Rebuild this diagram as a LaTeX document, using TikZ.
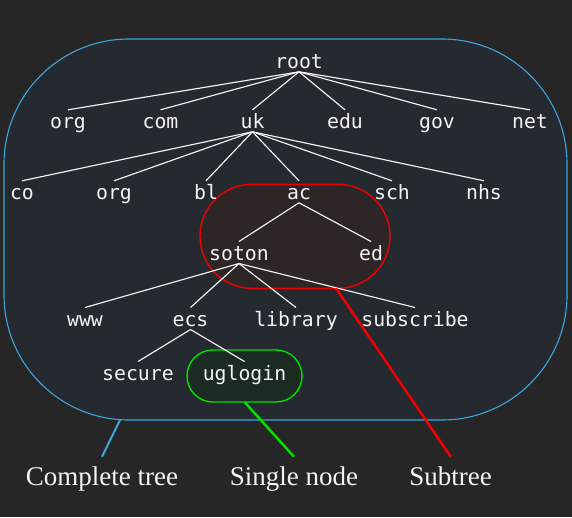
\documentclass[tikz,border=0pt]{standalone}
\usepackage{fontspec}
\setmainfont{Liberation Serif}
\newfontfamily\treefont{DejaVu Sans Mono}
\definecolor{bgc}{RGB}{38,38,38}
\definecolor{innerc}{RGB}{37,41,48}
\definecolor{txt}{RGB}{244,244,244}
\definecolor{cblue}{RGB}{60,165,222}
\definecolor{cred}{RGB}{240,0,0}
\definecolor{rfill}{RGB}{46,37,39}
\definecolor{cgreen}{RGB}{0,225,0}
\definecolor{gfill}{RGB}{27,43,33}
\begin{document}
\begin{tikzpicture}[x=1pt,y=-1pt,
  tn/.style={font=\treefont\fontsize{19.8}{22}\selectfont, text=txt, anchor=base,
    inner xsep=0pt, inner ysep=3.5pt, outer sep=0pt, text height=15pt, text depth=0pt},
  edge/.style={draw=txt, line width=1.15pt},
  lab/.style={font=\fontsize{27}{30}\selectfont, text=txt, anchor=base,
    inner sep=0pt, outer sep=0pt, text height=28.3pt, text depth=0pt},
  region/.style={inner sep=0pt, outer sep=0pt}
]
\useasboundingbox (0,0) rectangle (572,517);
\fill[bgc] (0,0) rectangle (572,517);

% regions
\node[region, draw=cblue, line width=1.1pt, fill=innerc, rounded corners=125pt,
  minimum width=563pt, minimum height=381pt] (tree) at (285.5,229.5) {};
\node[region, draw=cred, line width=1.4pt, fill=rfill, rounded corners=51.9pt,
  minimum width=190pt, minimum height=104pt] (subtree) at (295,236.3) {};
\node[region, draw=cgreen, line width=1.4pt, fill=gfill, rounded corners=25.9pt,
  minimum width=115pt, minimum height=52pt] (single) at (244.5,376) {};

% tree nodes
\node[tn] (root) at (299,68.3) {root};
\node[tn] (org1) at (68,128.3) {org};
\node[tn] (com) at (160.5,128.3) {com};
\node[tn] (uk) at (252.5,128.3) {uk};
\node[tn] (edu) at (345,128.3) {edu};
\node[tn] (gov) at (437,128.3) {gov};
\node[tn] (net) at (530,128.3) {net};

\node[tn] (co) at (22,199.3) {co};
\node[tn] (org2) at (114,199.3) {org};
\node[tn] (bl) at (206,199.3) {bl};
\node[tn] (ac) at (299,199.3) {ac};
\node[tn] (sch) at (392,199.3) {sch};
\node[tn] (nhs) at (484,199.3) {nhs};

\node[tn] (soton) at (239,260) {soton};
\node[tn] (ed) at (371,260) {ed};

\node[tn] (www) at (85,326) {www};
\node[tn] (ecs) at (190.5,326) {ecs};
\node[tn] (library) at (296,326) {library};
\node[tn] (subscribe) at (415,326) {subscribe};

\node[tn] (secure) at (138,380) {secure};
\node[tn] (uglogin) at (244.5,380) {uglogin};

% edges
\foreach \c in {org1,com,uk,edu,gov,net} \draw[edge] (root.south) -- (\c.north);
\foreach \c in {co,org2,bl,ac,sch,nhs} \draw[edge] (uk.south) -- (\c.north);
\foreach \c in {soton,ed} \draw[edge] (ac.south) -- (\c.north);
\foreach \c in {www,ecs,library,subscribe} \draw[edge] (soton.south) -- (\c.north);
\foreach \c in {secure,uglogin} \draw[edge] (ecs.south) -- (\c.north);

% labels
\node[lab] (lab1) at (102,485) {Complete tree};
\node[lab] (lab2) at (294,485) {Single node};
\node[lab] (lab3) at (450.7,485) {Subtree};

\draw[cblue, line width=2pt] ([xshift=116pt]tree.south west) -- (lab1.north);
\draw[cgreen, line width=2.5pt] (single.south) -- (lab2.north);
\draw[cred, line width=2.5pt] ([xshift=41pt]subtree.south) -- (lab3.north);
\end{tikzpicture}
\end{document}
